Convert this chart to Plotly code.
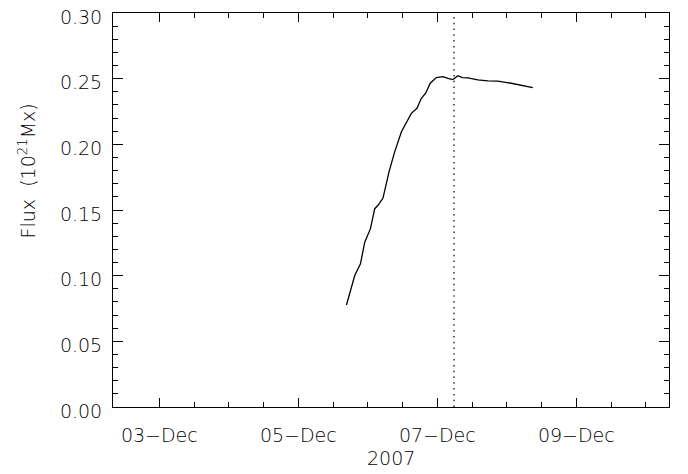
import plotly.graph_objects as go
import pandas as pd

# ---- data ----
times = [
    "2007-12-05 16:37", "2007-12-05 19:29", "2007-12-05 21:27", "2007-12-05 22:56",
    "2007-12-06 00:54", "2007-12-06 02:23", "2007-12-06 03:31", "2007-12-06 05:14",
    "2007-12-06 07:19", "2007-12-06 09:16", "2007-12-06 11:36", "2007-12-06 15:01",
    "2007-12-06 16:58", "2007-12-06 18:29", "2007-12-06 19:58", "2007-12-06 21:33",
    "2007-12-06 23:39", "2007-12-07 01:56", "2007-12-07 03:39", "2007-12-07 05:23",
    "2007-12-07 07:06", "2007-12-07 08:37", "2007-12-07 10:33", "2007-12-07 14:00",
    "2007-12-07 17:27", "2007-12-07 20:54", "2007-12-08 01:31", "2007-12-08 05:31",
    "2007-12-08 08:58",
]
flux = [
    0.0777, 0.1001, 0.1090, 0.1255,
    0.1358, 0.1510, 0.1536, 0.1591,
    0.1790, 0.1943, 0.2096, 0.2236,
    0.2274, 0.2351, 0.2389, 0.2465,
    0.2508, 0.2516, 0.2503, 0.2493,
    0.2523, 0.2508, 0.2506, 0.2490,
    0.2483, 0.2481, 0.2465, 0.2445,
    0.2432,
]
event_time = "2007-12-07 05:45"
x_range = ["2007-12-02 08:00", "2007-12-10 08:00"]
y_range = [0.0, 0.300001]
year_label = "2007"
y_title = "Flux  (10<sup>21</sup>Mx)"

minor_x = [d.strftime("%Y-%m-%d %H:%M") for d in pd.date_range("2007-12-03", "2007-12-10", freq="12h")]

FONT = dict(family="DejaVu Sans", size=19, color="#000", weight=200)

fig = go.Figure()
fig.add_trace(go.Scatter(x=times, y=flux, mode="lines",
                         line=dict(color="black", width=1.3), showlegend=False))

fig.add_shape(type="line", xref="x", yref="paper", x0=event_time, x1=event_time,
              y0=0, y1=1, line=dict(color="black", width=1.2, dash="1.5px,4.3px"))

axis_common = dict(showline=True, linecolor="black", linewidth=1, mirror="allticks",
                   ticks="inside", tickcolor="black", showgrid=False, zeroline=False,
                   tickfont=FONT, ticklabeloverflow="allow")

fig.update_xaxes(type="date", range=x_range, tickmode="linear",
                 tick0="2007-12-03", dtick=2 * 86400000, tickformat="%d\u2212%b",
                 ticklen=9, tickwidth=1, ticklabelstandoff=11,
                 minor=dict(tickmode="array", tickvals=minor_x, ticks="inside",
                            ticklen=5, tickcolor="black", tickwidth=1),
                 **axis_common)
fig.update_yaxes(range=y_range, tickmode="linear", tick0=0, dtick=0.05,
                 tickformat=".2f", ticklen=10, tickwidth=1, ticklabelstandoff=6,
                 ticklabelshift=4,
                 minor=dict(dtick=0.01, ticks="inside", ticklen=5,
                            tickcolor="black", tickwidth=1),
                 **axis_common)

fig.add_annotation(text=y_title, textangle=-90, xref="paper", yref="paper",
                   x=-0.155, y=0.60, xanchor="center", yanchor="middle",
                   showarrow=False, font=FONT)
fig.add_annotation(text=year_label, xref="paper", yref="paper",
                   x=0.5, y=-0.13, xanchor="center", yanchor="middle",
                   showarrow=False, font=FONT)

fig.update_layout(width=680, height=466,
                  margin=dict(l=105, r=19, t=5, b=67, autoexpand=False),
                  paper_bgcolor="white", plot_bgcolor="white", font=FONT)

fig.write_html("out.html")
